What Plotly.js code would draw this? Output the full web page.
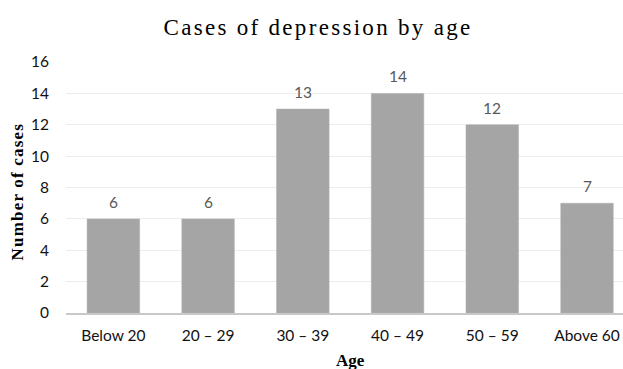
<!DOCTYPE html>
<html>
<head>
<meta charset="utf-8">
<script src="https://cdn.plot.ly/plotly-3.0.1.min.js"></script>
<style>
html,body{margin:0;padding:0;background:#fff;}
#chart{width:623px;height:369px;}
.gtitle{letter-spacing:2.3px;}
.ytitle-ann text{letter-spacing:1.2px;}
</style>
</head>
<body>
<div id="chart"></div>
<script>
const categories = ["Below 20", "20 – 29", "30 – 39", "40 – 49", "50 – 59", "Above 60"];
const cases = [6, 6, 13, 14, 12, 7];
const yTicks = [0, 2, 4, 6, 8, 10, 12, 14, 16];

const labelFont = {family: 'Lato, "Open Sans", sans-serif', size: 15.5, color: '#595959'};
const tickFont = {family: 'Lato, "Open Sans", sans-serif', size: 15.5, color: '#111111'};
const serifBold = {family: '"Liberation Serif", "Times New Roman", serif', size: 17, color: '#000000'};

const trace = {
  type: 'bar',
  x: categories,
  y: cases,
  marker: {color: '#a5a5a5', line: {color: '#b0b0b0', width: 0.5}},
  hoverinfo: 'none'
};

const valueLabels = categories.map((c, i) => ({
  text: String(cases[i]), xref: 'x', yref: 'y', x: c, y: cases[i],
  yshift: 17, showarrow: false, xanchor: 'center', yanchor: 'middle',
  font: labelFont
}));

const layout = {
  width: 623, height: 369,
  margin: {l: 66, r: 0, t: 62, b: 55.5},
  paper_bgcolor: '#ffffff', plot_bgcolor: '#ffffff',
  showlegend: false,
  bargap: 0.445,
  title: {
    text: 'Cases of depression by age',
    font: {family: '"Liberation Serif", "Times New Roman", serif', size: 23, color: '#000000'},
    x: 318/623, xanchor: 'center', xref: 'container',
    y: 1 - 27/369, yanchor: 'middle', yref: 'container'
  },
  xaxis: {
    type: 'category',
    range: [-0.5, 5.38],
    showgrid: false,
    showline: true, linecolor: '#c8c8c8', linewidth: 1.5,
    ticks: '', zeroline: false,
    ticklabelstandoff: 8,
    tickfont: tickFont,
    fixedrange: true
  },
  yaxis: {
    range: [0, 16],
    tickvals: yTicks,
    ticktext: yTicks.map(String),
    showgrid: true, gridcolor: '#ededed', gridwidth: 1,
    zeroline: false, showline: false, ticks: '',
    ticklabelstandoff: 16,
    tickfont: tickFont,
    fixedrange: true
  },
  annotations: valueLabels.concat([
    {
      text: '<b>Age</b>', xref: 'x', yref: 'paper', x: 2.5, y: 0,
      yshift: -47, showarrow: false, xanchor: 'center', yanchor: 'middle',
      font: serifBold
    },
    {
      text: '<b>Number of cases</b>', xref: 'paper', yref: 'paper',
      x: 0, xshift: -49, xanchor: 'center', y: 0.5, yshift: -4, yanchor: 'middle',
      textangle: -90, showarrow: false,
      font: serifBold
    }
  ])
};

Plotly.newPlot('chart', [trace], layout, {displayModeBar: false, staticPlot: true}).then(() => {
  const anns = document.querySelectorAll('.annotation');
  const last = anns[anns.length - 1];
  if (last) last.classList.add('ytitle-ann');
});
</script>
</body>
</html>
